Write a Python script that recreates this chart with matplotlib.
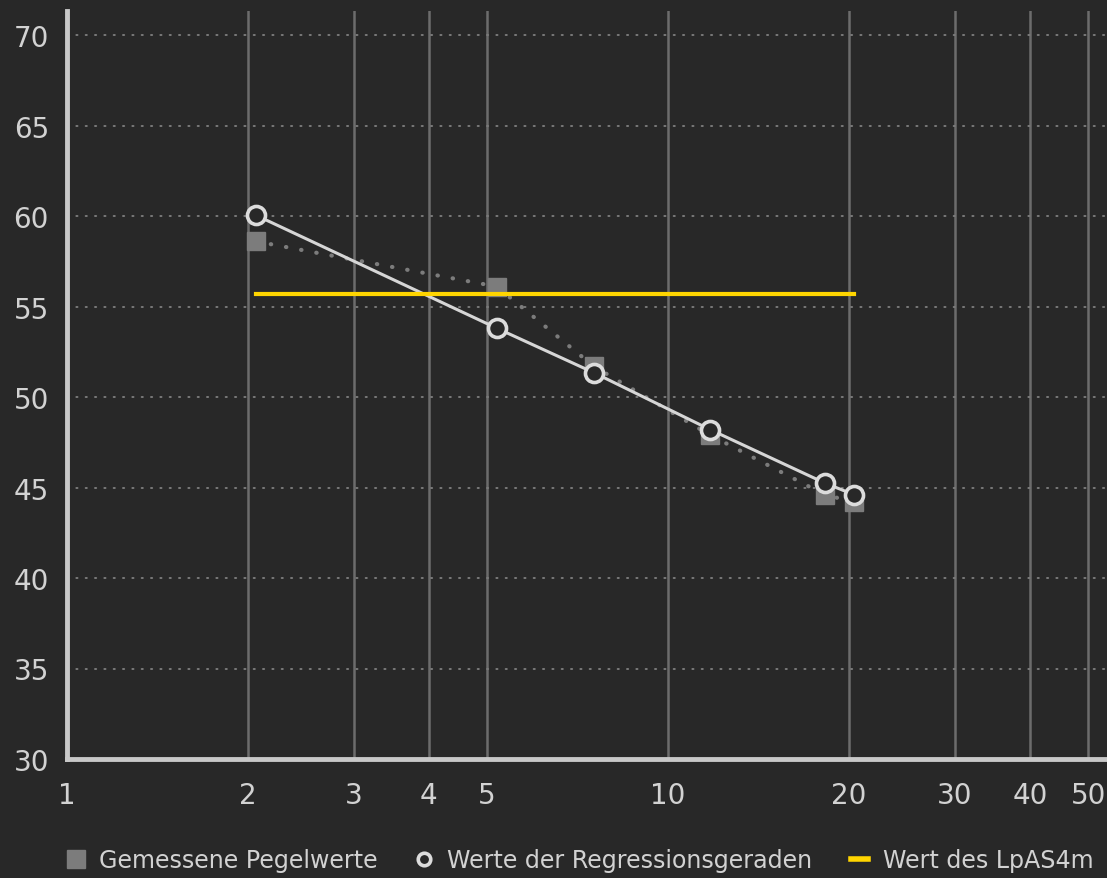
import matplotlib
matplotlib.use("Agg")
import matplotlib.pyplot as plt
from matplotlib.lines import Line2D

# distances (m) and levels (dB)
dist = [2.06, 5.19, 7.52, 11.75, 18.23, 20.4]
measured = [58.6, 56.1, 51.7, 47.9, 44.6, 44.2]
regression = [60.05, 53.8, 51.35, 48.2, 45.25, 44.6]
lpas4m = 55.7

xticks = [1, 2, 3, 4, 5, 10, 20, 30, 40, 50]
yticks = [30, 35, 40, 45, 50, 55, 60, 65, 70]
labels = ["Gemessene Pegelwerte", "Werte der Regressionsgeraden", "Wert des LpAS4m"]

bg = "#282828"
txt = "#d2d2d2"
plt.rcParams['font.family'] = ['DejaVu Sans']

fig = plt.figure(figsize=(11.07, 8.79), dpi=100, facecolor=bg)
ax = fig.add_axes([67 / 1107, 119 / 879, 1 - 67 / 1107, 748 / 879])
ax.set_facecolor(bg)
ax.set_xscale("log")
ax.set_xlim(1, 10 ** (1040 / 601))
ax.set_ylim(30, 70 + 24 / 18.1)

for x in xticks[1:]:
    ax.axvline(x, color="#6c6c6c", lw=1.8, zorder=1)
for y in yticks[1:]:
    ax.axhline(y, color="#7a7a7a", lw=1.4, ls=(0, (0.6, 4.2)), dash_capstyle="round", zorder=1)

ax.plot(dist, measured, color="#7c7c7c", lw=3, ls=(0, (0.1, 3.6)), dash_capstyle="round",
        marker="s", ms=13, mfc="#7c7c7c", mec="#7c7c7c", zorder=3)
ax.plot(dist, regression, color="#d6d6d6", lw=2.2, marker="o", ms=13, mfc=bg,
        mec="#dcdcdc", mew=2.6, zorder=4)
ax.plot([dist[0], dist[-1]], [lpas4m, lpas4m], color="#ffd500", lw=3, zorder=5)

ax.set_xticks(xticks)
ax.set_xticklabels([str(x) for x in xticks])
ax.set_xticks([], minor=True)
ax.set_yticks(yticks)
ax.tick_params(length=0, labelsize=20, colors=txt, pad=16)
ax.tick_params(axis="y", pad=13)

for s in ["top", "right"]:
    ax.spines[s].set_visible(False)
for s in ["left", "bottom"]:
    ax.spines[s].set_color("#c8c8c8")
    ax.spines[s].set_linewidth(3.5)

handles = [
    Line2D([], [], ls="none", marker="s", ms=13, mfc="#7c7c7c", mec="#7c7c7c"),
    Line2D([], [], ls="none", marker="o", ms=9, mfc=bg, mec="#dcdcdc", mew=2.6),
    Line2D([], [], color="#ffd500", lw=4),
]
leg = fig.legend(handles, labels, ncol=3, frameon=False, loc="center",
                 bbox_to_anchor=(580 / 1107, 18 / 879), fontsize=17.1,
                 handlelength=0.75, handletextpad=0.6, columnspacing=1.6)
for t in leg.get_texts():
    t.set_color(txt)

fig.savefig("out.png", dpi=100, facecolor=bg)
